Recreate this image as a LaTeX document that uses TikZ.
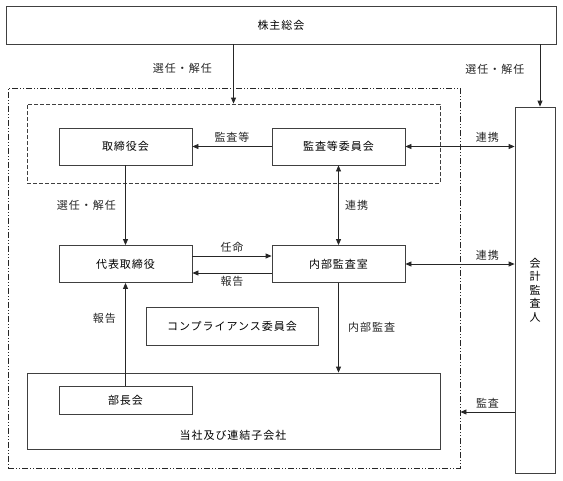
\documentclass[tikz,border=0pt]{standalone}
\usepackage{fontspec}
\setmainfont{Noto Sans CJK JP}[LetterSpace=9]
\usepackage{tikz}
\usetikzlibrary{arrows.meta,positioning}

\begin{document}
\begin{tikzpicture}[
    x=1pt, y=-1pt,
    font=\fontsize{11}{13.5}\selectfont,
    box/.style={rectangle, draw=black!75, line width=0.8pt, minimum width=133pt, minimum height=37pt, inner sep=0pt},
    frame/.style={rectangle, draw=black!75, line width=0.8pt, inner sep=0pt},
    arrow/.style={-{Triangle[length=6pt,width=5pt]}, line width=0.8pt, black!85},
    both/.style={{Triangle[length=6pt,width=5pt]}-{Triangle[length=6pt,width=5pt]}, line width=0.8pt, black!85}
]
\useasboundingbox (0,0) rectangle (563,480);

% Groups
\node[frame, minimum width=452pt, minimum height=380pt, draw=black!85,
      dash pattern=on 6pt off 2pt on 1pt off 2pt on 1pt off 2pt] (outer) at (234,278) {};
\node[frame, minimum width=413pt, minimum height=79pt, dash pattern=on 4pt off 2pt] (inner) at (233.5,143.5) {};
\node[frame, minimum width=413pt, minimum height=76pt] (group) at (233.5,411) {};

% Nodes
\node[frame, minimum width=550pt, minimum height=38pt] (meeting) at (281,25) {株主総会};
\node[box] (board) at (125.5,146.5) {取締役会};
\node[box] (audit) at (338.5,146.5) {監査等委員会};
\node[box] (rep) at (125.5,264) {代表取締役};
\node[box] (internal) at (338.5,264) {内部監査室};
\node[box, minimum width=172pt, minimum height=38pt] (comp) at (232,326) {コンプライアンス委員会};
\node[box, minimum height=28pt] (bucho) at (125.5,400) {部長会};
\node (grouptext) at (233,435) {当社及び連結子会社};
\node[frame, minimum width=40pt, minimum height=366pt] (cpa) at (535,290) {};
\node[align=center] (cpatext) at (535,290) {会\\計\\監\\査\\人};

% Arrows
\draw[arrow] (meeting.south -| inner.north) -- node[pos=0.4, left=18pt] {選任・解任} (inner.north);
\draw[arrow] ([xshift=5pt]cpa.north |- meeting.south) -- node[pos=0.4, left=12pt] {選任・解任} ([xshift=5pt]cpa.north);
\draw[arrow] (audit.west) -- node[above] {監査等} (board.east);
\draw[both] (audit.east) -- node[pos=0.75, above] {連携} (audit.east -| cpa.west);
\draw[arrow] (board.south) -- node[left=6pt] {選任・解任} (rep.north);
\draw[arrow] ([yshift=8pt]rep.east) -- node[above] {任命} ([yshift=8pt]internal.west);
\draw[arrow] ([yshift=-9pt]internal.west) -- node[below] {報告} ([yshift=-9pt]rep.east);
\draw[both] (audit.south) -- node[right=3pt] {連携} (internal.north);
\draw[both] (internal.east) -- node[pos=0.75, above] {連携} (internal.east -| cpa.west);
\draw[arrow] (bucho.north) -- node[pos=0.65, left=6pt] {報告} (rep.south);
\draw[arrow] (internal.south) -- node[pos=0.5, right=6pt] {内部監査} (internal.south |- group.north);
\draw[arrow] (cpa.west |- 0,412) -- node[above] {監査} (outer.east |- 0,412);

\end{tikzpicture}
\end{document}
